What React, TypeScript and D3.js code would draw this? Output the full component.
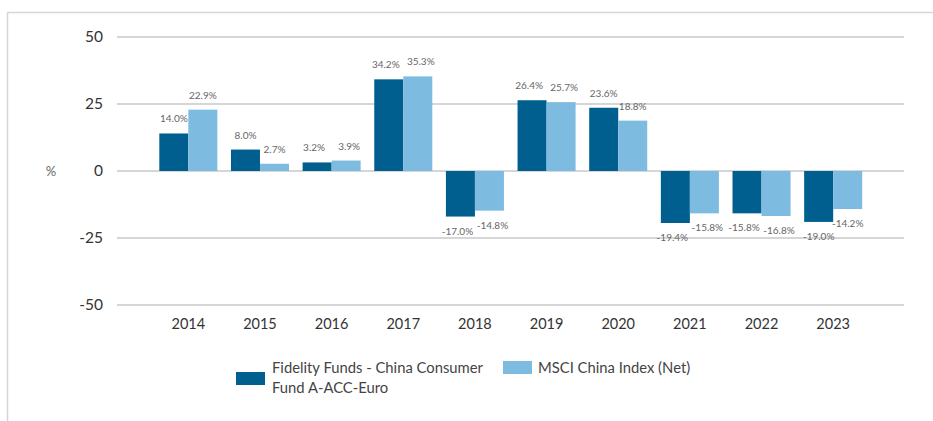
import React from "react";
import * as d3 from "d3";

const years = ["2014", "2015", "2016", "2017", "2018", "2019", "2020", "2021", "2022", "2023"];
const fundValues = [14.0, 8.0, 3.2, 34.2, -17.0, 26.4, 23.6, -19.4, -15.8, -19.0];
const indexValues = [22.9, 2.7, 3.9, 35.3, -14.8, 25.7, 18.8, -15.8, -16.8, -14.2];
const yTicks = [50, 25, 0, -25, -50];
const seriesNames = ["Fidelity Funds - China Consumer Fund A-ACC-Euro", "MSCI China Index (Net)"];
const colors = ["#005f8f", "#7ebbe1"];

const W = 933;
const H = 421;
const FONT = "Lato, 'Open Sans', sans-serif";

export default function App() {
  const x = d3.scaleBand<string>().domain(years).range([152.5, 869]).paddingInner(0.19).paddingOuter(0.095);
  const y = d3.scaleLinear().domain([-50, 50]).range([305, 37]);
  const sub = d3.scaleBand<number>().domain([0, 1]).range([0, x.bandwidth()]);
  const series = [fundValues, indexValues];

  return (
    <div style={{ position: "absolute", left: 0, top: 0 }}>
      <svg width={W} height={H} style={{ display: "block", background: "#fff" }} fontFamily={FONT}>
        {/* frame */}
        <line x1={7} x2={W} y1={12.5} y2={12.5} stroke="#d6d6d6" strokeWidth={1.5} />
        <line x1={7.5} x2={7.5} y1={12} y2={H} stroke="#d6d6d6" strokeWidth={1.5} />
        {/* gridlines */}
        {yTicks.map((t) => (
          <g key={t}>
            <line x1={117} x2={904} y1={y(t)} y2={y(t)} stroke="#d6d6d6" strokeWidth={2.2} />
            <text x={103} y={y(t)} dy="0.35em" textAnchor="end" fontSize={15.5} fill="#333">
              {t}
            </text>
          </g>
        ))}
        <text x={51} y={y(0)} dy="0.35em" textAnchor="middle" fontSize={13} fill="#666">
          %
        </text>
        {/* bars */}
        {years.map((yr, i) => {
          const ly = series.map((vals) => (vals[i] >= 0 ? y(vals[i]) - 11 : y(vals[i]) + 18));
          const close = Math.abs(ly[0] - ly[1]) < 11;
          return (
            <g key={yr} transform={`translate(${x(yr)},0)`}>
              {series.map((vals, s) => {
                const v = vals[i];
                const y0 = y(Math.max(0, v));
                const h = Math.abs(y(v) - y(0));
                const bx = sub(s)!;
                const bw = sub.bandwidth();
                const shift = close ? (s === 0 ? -3 : 3) : 0;
                return (
                  <g key={s}>
                    <rect x={bx} y={y0} width={bw} height={h} fill={colors[s]} />
                    <text
                      x={bx + bw / 2 + shift}
                      y={ly[s]}
                      textAnchor="middle"
                      fontSize={10}
                      fill="#666"
                    >
                      {v.toFixed(1)}%
                    </text>
                  </g>
                );
              })}
              <text x={x.bandwidth() / 2} y={329} textAnchor="middle" fontSize={14.5} fill="#333">
                {yr}
              </text>
            </g>
          );
        })}
        {/* legend */}
        <rect x={236} y={372} width={29} height={13} fill={colors[0]} />
        <text x={272} y={373} fontSize={14.8} fill="#444">
          Fidelity Funds - China Consumer
        </text>
        <text x={272} y={393} fontSize={14.8} fill="#444">
          Fund A-ACC-Euro
        </text>
        <rect x={503} y={361} width={29} height={13} fill={colors[1]} />
        <text x={538} y={373} fontSize={14.8} fill="#444">
          {seriesNames[1]}
        </text>
      </svg>
    </div>
  );
}
